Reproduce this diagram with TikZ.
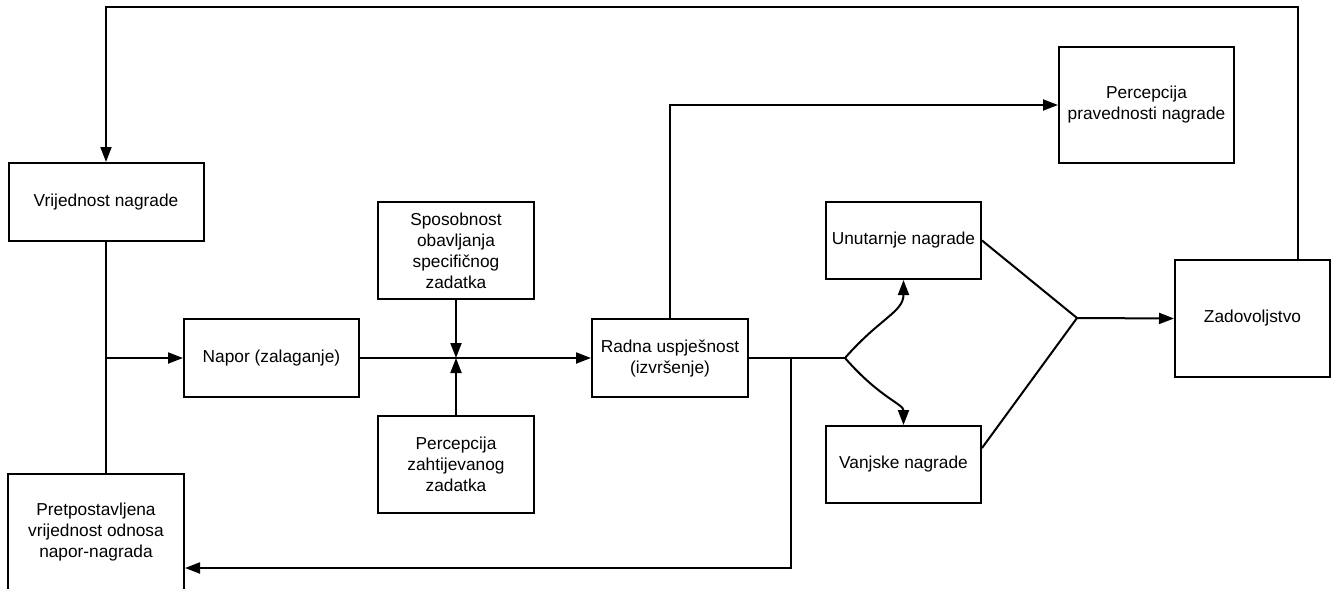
\documentclass[tikz,border=0pt]{standalone}
\usepackage{fontspec}
\setmainfont{Liberation Sans}
\usetikzlibrary{arrows.meta}
\begin{document}
\begin{tikzpicture}[x=1pt,y=-1pt,
 box/.style={draw,line width=2pt,inner sep=0pt,align=center,font=\fontsize{17.3}{21}\selectfont},
 conn/.style={line width=2pt},
 arr/.style={conn,-{Triangle[length=15pt,width=11pt]}},
]
\useasboundingbox[fill=white] (0,0) rectangle (1331,589);

\node[box,minimum width=195pt,minimum height=78pt] (vr) at (106,202) {Vrijednost nagrade};
\node[box,minimum width=176pt,minimum height=117pt] (pp) at (96,532.5) {Pretpostavljena\\vrijednost odnosa\\napor-nagrada};
\node[box,minimum width=175pt,minimum height=78pt] (np) at (271.5,358) {Napor (zalaganje)};
\node[box,minimum width=156pt,minimum height=97pt] (sp) at (456,250.5) {Sposobnost\\obavljanja\\specifičnog\\zadatka};
\node[box,minimum width=156pt,minimum height=97pt] (pz) at (456,464.5) {Percepcija\\zahtijevanog\\zadatka};
\node[box,minimum width=156pt,minimum height=78pt] (rd) at (670,358) {Radna uspješnost\\(izvršenje)};
\node[box,minimum width=175pt,minimum height=116pt] (pr) at (1146.5,105) {Percepcija\\pravednosti nagrade};
\node[box,minimum width=155pt,minimum height=77pt] (un) at (903.5,240.5) {Unutarnje nagrade};
\node[box,minimum width=155pt,minimum height=77pt] (va) at (903.5,464.5) {Vanjske nagrade};
\node[box,minimum width=155pt,minimum height=117pt] (za) at (1252.5,318.5) {Zadovoljstvo};

\coordinate (jA) at (456,358);
\coordinate (jL) at (106,358);
\coordinate (topR) at (1298,7);
\coordinate (topL) at (106,7);
\coordinate (rdUp) at (670,105);
\coordinate (split) at (845,358);
\coordinate (fb) at (791,358);
\coordinate (fbB) at (791,568);
\coordinate (merge) at (1077,318);

\draw[arr] (np.east) -- (rd.west);
\draw[arr] (sp.south) -- (jA);
\draw[arr] (pz.north) -- (jA);
\draw[arr] (topR |- za.north) -- (topR) -- (topL) -- (vr.north);
\draw[conn] (vr.south) -- (pp.north -| vr.south);
\draw[arr] (jL) -- (np.west);
\draw[arr] (rd.north) -- (rdUp) -- (pr.west);
\draw[conn] (rd.east) -- (split);
\draw[arr] (fb) -- (fbB) -- (pp.east |- fbB);
\draw[arr] (split) .. controls (880,318) and (903.5,312) .. (un.south);
\draw[arr] (split) .. controls (880,398) and (903.5,404) .. (va.north);
\draw[conn] (un.east) -- (merge) -- ([yshift=16.5pt]va.east);
\draw[arr] (merge) -- (za.west);
\end{tikzpicture}
\end{document}
